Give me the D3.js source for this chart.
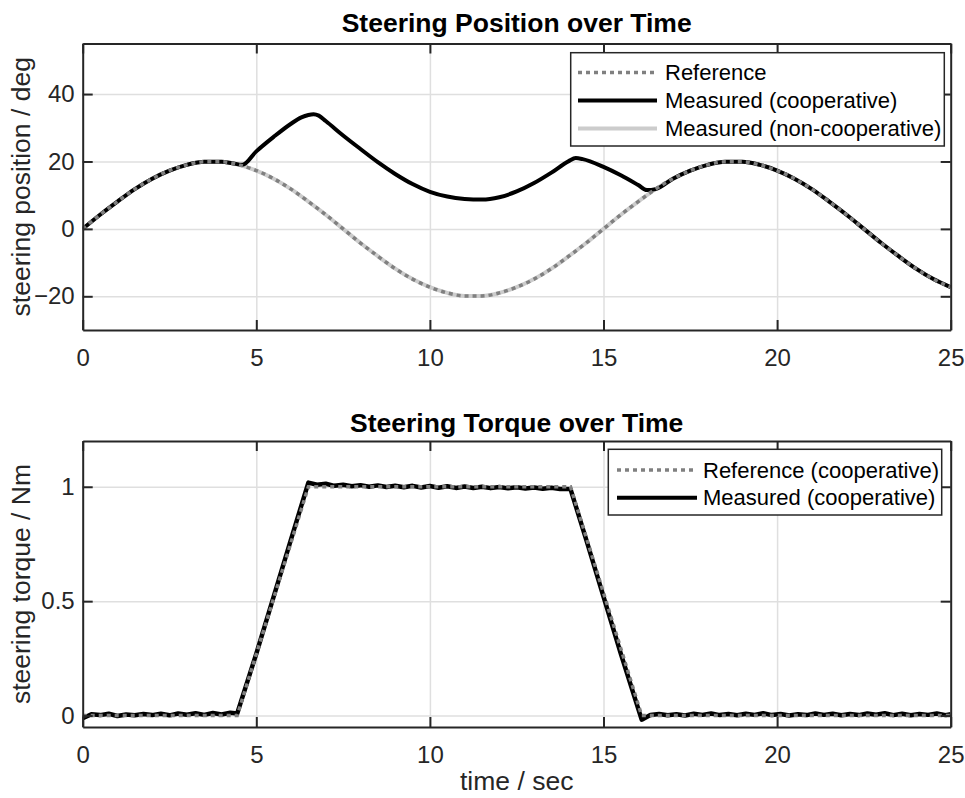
<!DOCTYPE html>
<html>
<head>
<meta charset="utf-8">
<script src="https://cdn.jsdelivr.net/npm/d3@7"></script>
<style>
  body { margin: 0; background: #fff; }
  svg text { font-family: "Liberation Sans", Arial, Helvetica, sans-serif; fill: #262626; }
</style>
</head>
<body>
<svg id="chart" width="965" height="798"></svg>
<script>
// ---------- Steering position (deg) ----------
const posTime = [0,0.5,1,1.5,2,2.5,3,3.5,4,4.5,5,5.5,6,6.5,7,7.5,8,8.5,9,9.5,10,10.5,11,11.5,12,12.5,
                 13,13.5,14,14.5,15,15.5,16,16.5,17,17.5,18,18.5,19,19.5,20,20.5,21,21.5,22,22.5,23,23.5,24,24.5,25];
const posReference = [0,4.2,8.1,11.8,14.9,17.3,19.0,19.9,19.9,19.0,17.3,14.9,11.8,8.1,4.2,0,-4.2,-8.1,-11.8,-14.9,-17.3,-19.0,-19.9,-19.9,-19.0,-17.3,
                      -14.9,-11.8,-8.1,-4.2,0,4.2,8.1,11.8,14.9,17.3,19.0,19.9,19.9,19.0,17.3,14.9,11.8,8.1,4.2,0,-4.2,-8.1,-11.8,-14.9,-17.3];
const posNonCoop = [0,4.2,8.1,11.8,14.9,17.3,19.0,19.9,19.9,19.0,17.3,14.9,11.8,8.1,4.2,0,-4.2,-8.1,-11.8,-14.9,-17.3,-19.0,-19.9,-19.9,-19.0,-17.3,
                    -14.9,-11.8,-8.1,-4.2,0,4.2,8.1,11.8,14.9,17.3,19.0,19.9,19.9,19.0,17.3,14.9,11.8,8.1,4.2,0,-4.2,-8.1,-11.8,-14.9,-17.3];
const coopTime = [0,0.5,1,1.5,2,2.5,3,3.5,4,4.3,4.6,5,5.5,6,6.3,6.5,6.65,6.8,7,7.5,8,8.5,9,9.5,10,10.5,11,11.5,12,12.5,13,13.5,14,14.2,14.4,
                  15,15.5,16,16.25,16.5,17,17.5,18,18.5,19,19.5,20,20.5,21,21.5,22,22.5,23,23.5,24,24.5,25];
const coopValue = [0,4.2,8.1,11.8,14.9,17.3,19.0,19.9,19.9,19.5,19.0,23.0,27.3,31.2,33.1,33.8,34.0,33.6,32.0,27.7,23.7,19.8,16.3,13.3,11.0,9.6,8.9,8.7,9.4,11.1,13.6,16.7,20.1,21.0,20.7,
                   18.4,15.9,13.0,11.5,11.8,14.9,17.3,19.0,19.9,19.9,19.0,17.3,14.9,11.8,8.1,4.2,0,-4.2,-8.1,-11.8,-14.9,-17.3];

// ---------- Steering torque (Nm) ----------
const torqueRefTime  = [0,4.45,6.5,14.05,16.1,25];
const torqueRefValue = [0,0,1,1,0,0];
const torqueTime = [0,0.25,0.5,0.75,1,1.25,1.5,1.75,2,2.25,2.5,2.75,3,3.25,3.5,3.75,4,4.25,
  4.45,5,5.5,6,6.5,
  6.75,7,7.25,7.5,7.75,8,8.25,8.5,8.75,9,9.25,9.5,9.75,10,10.25,10.5,10.75,11,11.25,11.5,11.75,12,12.25,12.5,12.75,13,13.25,13.5,13.75,
  14.05,14.5,15,15.5,16.1,
  16.35,16.6,16.85,17.1,17.35,17.6,17.85,18.1,18.35,18.6,18.85,19.1,19.35,19.6,19.85,20.1,20.35,20.6,20.85,21.1,21.35,21.6,21.85,
  22.1,22.35,22.6,22.85,23.1,23.35,23.6,23.85,24.1,24.35,24.6,24.85,25];
const torqueValue = [-0.012,0.006,0.002,0.008,-0.002,0.005,0.001,0.007,0.002,0.008,0.001,0.009,0.004,0.01,0.003,0.011,0.005,0.012,
  0.009,0.27,0.52,0.77,1.018,
  1.009,1.013,1.004,1.009,1.002,1.007,1.0,1.006,0.999,1.004,0.998,1.004,0.997,1.003,0.996,1.002,0.995,1.001,0.995,1.0,0.994,0.999,0.993,0.998,0.992,0.997,0.991,0.996,0.99,
  0.99,0.77,0.52,0.27,-0.018,
  0.002,0.007,0.001,0.006,0.0,0.008,0.003,0.009,0.002,0.007,0.001,0.008,0.003,0.01,0.002,0.007,0.0,0.006,0.002,0.009,0.003,0.008,
  0.001,0.007,0.002,0.009,0.004,0.01,0.002,0.008,0.001,0.007,0.003,0.009,0.002,0.006];

// ---------- Axis ticks ----------
const xTicks = [0,5,10,15,20,25];
const posTicks = [-20,0,20,40];
const torqueTicks = [0,0.5,1];

// ---------- Styles ----------
const AXIS = "#262626", GRID = "#dfdfdf";
const REF_GRAY = "#808080", LIGHT_GRAY = "#cccccc", BLACK = "#000000";
const TICK_FONT = 24, LABEL_FONT = 26.5, LEGEND_FONT = 22;
const SOLID_W = 4, DOT_W = 3.5, DOT = "4,4";

const svg = d3.select("#chart");
const left = 82.7, right = 950.7;

function panel(opts) {
  const { top, bottom, yDomain, yTicks, yFormat, title, ylabel, id } = opts;
  const x = d3.scaleLinear().domain([0, 25]).range([left, right]);
  const y = d3.scaleLinear().domain(yDomain).range([bottom, top]);
  const w = right - left, h = bottom - top;
  const g = svg.append("g");

  // grid
  g.append("g").attr("transform", `translate(0,${bottom})`)
    .call(d3.axisBottom(x).tickValues(xTicks).tickSize(-h).tickFormat(""))
    .call(s => { s.select(".domain").remove(); s.selectAll("line").attr("stroke", GRID).attr("stroke-width", 1.5); });
  g.append("g").attr("transform", `translate(${left},0)`)
    .call(d3.axisLeft(y).tickValues(yTicks).tickSize(-w).tickFormat(""))
    .call(s => { s.select(".domain").remove(); s.selectAll("line").attr("stroke", GRID).attr("stroke-width", 1.5); });

  g.append("clipPath").attr("id", id).append("rect")
    .attr("x", left).attr("y", top).attr("width", w).attr("height", h);
  const plot = g.append("g").attr("clip-path", `url(#${id})`);

  // axes with inward ticks, mirrored on all four sides
  const tickLen = 10;
  const styleAxis = s => {
    s.select(".domain").attr("stroke", AXIS).attr("stroke-width", 2);
    s.selectAll(".tick line").attr("stroke", AXIS).attr("stroke-width", 2);
    s.selectAll("text").attr("font-size", TICK_FONT).attr("fill", AXIS)
      .style("font-family", '"Liberation Sans", Arial, sans-serif');
  };
  const axes = g.append("g");
  axes.append("g").attr("transform", `translate(0,${bottom})`)
    .call(d3.axisBottom(x).tickValues(xTicks).tickSizeInner(-tickLen).tickSizeOuter(0).tickPadding(19).tickFormat(d3.format("d")))
    .call(styleAxis);
  axes.append("g").attr("transform", `translate(0,${top})`)
    .call(d3.axisTop(x).tickValues(xTicks).tickSizeInner(-tickLen).tickSizeOuter(0).tickFormat(""))
    .call(styleAxis);
  axes.append("g").attr("transform", `translate(${left},0)`)
    .call(d3.axisLeft(y).tickValues(yTicks).tickSizeInner(-tickLen).tickSizeOuter(0).tickPadding(8).tickFormat(yFormat))
    .call(styleAxis);
  axes.append("g").attr("transform", `translate(${right},0)`)
    .call(d3.axisRight(y).tickValues(yTicks).tickSizeInner(-tickLen).tickSizeOuter(0).tickFormat(""))
    .call(styleAxis);

  // title
  svg.append("text").attr("x", (left + right) / 2).attr("y", opts.titleY)
    .attr("text-anchor", "middle").attr("font-size", LABEL_FONT).attr("font-weight", "bold")
    .style("fill", "#000").text(title);
  // y label
  svg.append("text")
    .attr("transform", `translate(${opts.ylabelX},${(top + bottom) / 2}) rotate(-90)`)
    .attr("text-anchor", "middle").attr("font-size", LABEL_FONT).text(ylabel);

  return { x, y, plot, axes };
}

function legend(box, rows) {
  const g = svg.append("g");
  g.append("rect").attr("x", box.x).attr("y", box.y).attr("width", box.w).attr("height", box.h)
    .attr("fill", "#fff").attr("stroke", AXIS).attr("stroke-width", 1.5);
  rows.forEach((r, i) => {
    const cy = box.firstRow + i * box.step;
    g.append("line").attr("x1", box.lineX1).attr("x2", box.lineX2).attr("y1", cy).attr("y2", cy)
      .attr("stroke", r.color).attr("stroke-width", r.width).attr("stroke-dasharray", r.dash || null);
    g.append("text").attr("x", box.textX).attr("y", cy).attr("dy", "0.35em")
      .attr("font-size", LEGEND_FONT).style("fill", "#000").text(r.label);
  });
}

// ---------- Top panel: steering position ----------
const p1 = panel({ id: "clipPos", top: 43.5, bottom: 330, yDomain: [-30, 55], yTicks: posTicks,
  yFormat: d3.format("d"), title: "Steering Position over Time", titleY: 32,
  ylabel: "steering position / deg", ylabelX: 30 });

const linePos = d3.line().x(d => p1.x(d[0])).y(d => p1.y(d[1])).curve(d3.curveMonotoneX);
p1.plot.append("path").datum(d3.zip(posTime, posNonCoop)).attr("d", linePos)
  .attr("fill", "none").attr("stroke", LIGHT_GRAY).attr("stroke-width", SOLID_W);
p1.plot.append("path").datum(d3.zip(coopTime, coopValue)).attr("d", linePos)
  .attr("fill", "none").attr("stroke", BLACK).attr("stroke-width", SOLID_W).attr("stroke-linejoin", "round");
p1.plot.append("path").datum(d3.zip(posTime, posReference)).attr("d", linePos)
  .attr("fill", "none").attr("stroke", REF_GRAY).attr("stroke-width", DOT_W).attr("stroke-dasharray", DOT);
p1.axes.raise();

legend({ x: 570.7, y: 52.7, w: 373.6, h: 93.3, firstRow: 72.5, step: 28,
         lineX1: 578, lineX2: 657, textX: 665 },
  [ { label: "Reference", color: REF_GRAY, width: DOT_W, dash: DOT },
    { label: "Measured (cooperative)", color: BLACK, width: SOLID_W },
    { label: "Measured (non-cooperative)", color: LIGHT_GRAY, width: SOLID_W } ]);

// ---------- Bottom panel: steering torque ----------
const p2 = panel({ id: "clipTorque", top: 441, bottom: 727, yDomain: [-0.05, 1.2], yTicks: torqueTicks,
  yFormat: d => d === 0 ? "0" : (d === 1 ? "1" : d3.format(".1f")(d)), title: "Steering Torque over Time", titleY: 432,
  ylabel: "steering torque / Nm", ylabelX: 30 });

const lineT = d3.line().x(d => p2.x(d[0])).y(d => p2.y(d[1]));
p2.plot.append("path").datum(d3.zip(torqueTime, torqueValue)).attr("d", lineT)
  .attr("fill", "none").attr("stroke", BLACK).attr("stroke-width", SOLID_W + 0.5).attr("stroke-linejoin", "round");
p2.plot.append("path").datum(d3.zip(torqueRefTime, torqueRefValue)).attr("d", lineT)
  .attr("fill", "none").attr("stroke", REF_GRAY).attr("stroke-width", DOT_W).attr("stroke-dasharray", DOT);
p2.axes.raise();

legend({ x: 608.3, y: 449.3, w: 333.4, h: 65.7, firstRow: 470, step: 27.7,
         lineX1: 617, lineX2: 697, textX: 703 },
  [ { label: "Reference (cooperative)", color: REF_GRAY, width: DOT_W, dash: DOT },
    { label: "Measured (cooperative)", color: BLACK, width: SOLID_W } ]);

// x label
svg.append("text").attr("x", (left + right) / 2).attr("y", 790)
  .attr("text-anchor", "middle").attr("font-size", LABEL_FONT).text("time / sec");
</script>
</body>
</html>
